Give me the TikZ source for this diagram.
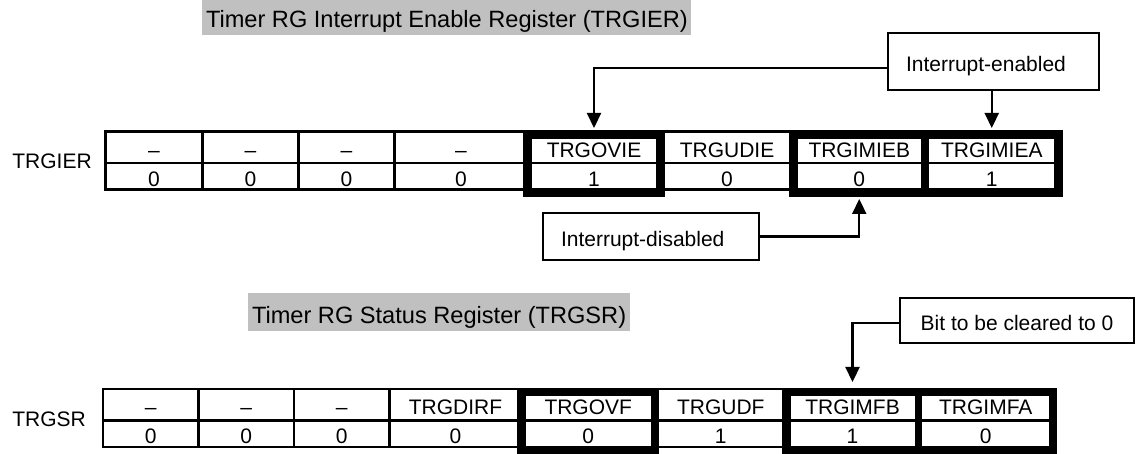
\documentclass[tikz,border=0pt]{standalone}
\usepackage{fontspec}
\setmainfont{Liberation Sans}
\usetikzlibrary{arrows.meta}

\definecolor{titlegray}{RGB}{192,192,192}

\tikzset{
    bitcell/.style={draw, line width=1.1pt, inner sep=0pt, outer sep=0pt, anchor=north west, text height=10pt, text depth=0pt},
    regname/.style={anchor=west, inner sep=0pt},
    regtitle/.style={fill=titlegray, anchor=north west, inner xsep=1.8pt, inner ysep=0pt, minimum height=19pt, text height=11.45pt, text depth=0pt, font=\fontsize{11.8}{14}\selectfont},
    callout/.style={draw, line width=1.1pt, inner xsep=9pt, inner ysep=0pt, align=left, text height=9.7pt, text depth=0pt},
    pointer/.style={-{Triangle[length=7.5pt,width=7pt]}, line width=1.1pt},
    bitframe/.style={line width=4.25pt},
}

\begin{document}
\begin{tikzpicture}[x=0.5pt, y=-0.5pt, font=\fontsize{10.5}{12}\selectfont]
    \useasboundingbox (0,0) rectangle (1141,454);

    % Titles
    \node[regtitle] (iertitle) at (202,-3) {Timer RG Interrupt Enable Register (TRGIER)};
    \node[regtitle] (srtitle) at (248,293) {Timer RG Status Register (TRGSR)};

    % TRGIER bits and values
    \node[regname] (iername) at (12,161) {TRGIER};
    \foreach \regbit/\bitval/\xl/\xr [count=\i] in {–/0/105.5/202.5, –/0/202.5/298.5, –/0/298.5/394.5, –/0/394.5/527.5,
        TRGOVIE/1/527.5/660.5, TRGUDIE/0/660.5/793.5, TRGIMIEB/0/793.5/925, TRGIMIEA/1/925/1058.5}
    {
        \node[bitcell, minimum width={(\xr-\xl)*0.5pt}, minimum height=15.75pt] (ier\i) at (\xl,131.5) {\regbit};
        \node[bitcell, minimum width={(\xr-\xl)*0.5pt}, minimum height=13.25pt] (iev\i) at (\xl,163) {\bitval};
    }
    \draw[bitframe] ([yshift=-1.5pt]ier5.north west) rectangle ([yshift=-1.5pt]iev5.south east);
    \draw[bitframe] ([yshift=-1.5pt]ier7.north west) rectangle ([yshift=-1.5pt]iev8.south east);
    \draw[line width=3.75pt] ([yshift=-1.5pt]ier8.north west) -- ([yshift=-1.5pt]iev8.south west);

    % TRGSR bits and values
    \node[regname] (srname) at (12,419) {TRGSR};
    \foreach \regbit/\bitval/\xl/\xr [count=\i] in {–/0/103/198.5, –/0/198.5/294, –/0/294/389.5, TRGDIRF/0/389.5/521.5,
        TRGOVF/0/521.5/655, TRGUDF/1/655/786.5, TRGIMFB/1/786.5/918.5, TRGIMFA/0/918.5/1053}
    {
        \node[bitcell, minimum width={(\xr-\xl)*0.5pt}, minimum height=15.75pt] (sr\i) at (\xl,389) {\regbit};
        \node[bitcell, minimum width={(\xr-\xl)*0.5pt}, minimum height=13.25pt] (srv\i) at (\xl,420.5) {\bitval};
    }
    \draw[bitframe] ([yshift=-1.5pt]sr5.north west) rectangle ([yshift=-1.5pt]srv5.south east);
    \draw[bitframe] ([yshift=-1.5pt]sr7.north west) rectangle ([yshift=-1.5pt]srv8.south east);
    \draw[line width=3.75pt] ([yshift=-1.5pt]sr8.north west) -- ([yshift=-1.5pt]srv8.south west);

    % Callouts
    \node[callout, text width=87.5pt, minimum height=28.5pt] (enabled) at (993.5,61.5) {Interrupt-enabled};
    \node[callout, text width=90pt, minimum height=23.5pt] (disabled) at (651,236.5) {Interrupt-disabled};
    \node[callout, minimum width=117pt, minimum height=22.5pt] (clearbit) at (1017,320.5) {Bit to be cleared to 0};

    \draw[pointer] ([yshift=-3.25pt]enabled.west) -| ([yshift=1.75pt]ier5.north);
    \draw[pointer] (enabled.south -| ier8.north) -- ([yshift=1.75pt]ier8.north);
    \draw[pointer] (disabled.east) -| ([yshift=-4.75pt]iev7.south);
    \draw[pointer] ([yshift=-1.25pt]clearbit.west) -| ([yshift=3.5pt]sr7.north);
\end{tikzpicture}
\end{document}
